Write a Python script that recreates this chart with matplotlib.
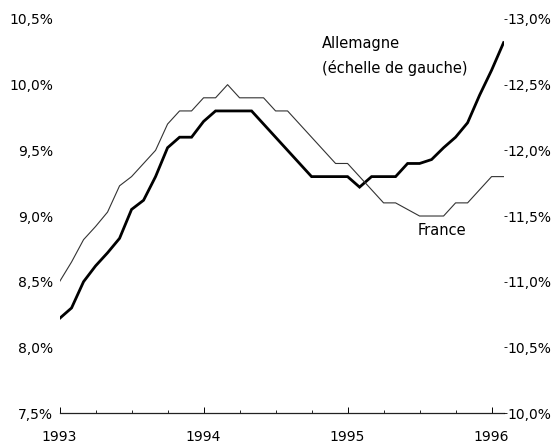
import numpy as np
import matplotlib.pyplot as plt

# monthly values, Jan 1993 - Feb 1996
years = [1993, 1994, 1995, 1996]
left_ticks = [7.5, 8.0, 8.5, 9.0, 9.5, 10.0, 10.5]
right_ticks = [10.0, 10.5, 11.0, 11.5, 12.0, 12.5, 13.0]

allemagne = [8.22, 8.30, 8.50, 8.62, 8.72, 8.83, 9.05, 9.12, 9.30, 9.52,
             9.60, 9.60, 9.72, 9.80, 9.80, 9.80, 9.80, 9.70, 9.60, 9.50,
             9.40, 9.30, 9.30, 9.30, 9.30, 9.22, 9.30, 9.30, 9.30, 9.40,
             9.40, 9.43, 9.52, 9.60, 9.71, 9.92, 10.11, 10.32]

france = [11.00, 11.15, 11.32, 11.42, 11.53, 11.73, 11.80, 11.90, 12.00, 12.20,
          12.30, 12.30, 12.40, 12.40, 12.50, 12.40, 12.40, 12.40, 12.30, 12.30,
          12.20, 12.10, 12.00, 11.90, 11.90, 11.80, 11.70, 11.60, 11.60, 11.55,
          11.50, 11.50, 11.50, 11.60, 11.60, 11.70, 11.80, 11.80]

plt.rcParams['font.family'] = ['DejaVu Sans']

fig = plt.figure(figsize=(5.54, 4.47), dpi=100)
ax = fig.add_axes([0.1075, 0.076, 0.8015, 0.8815])
ax2 = ax.twinx()

x = np.arange(len(allemagne))
ax.plot(x, allemagne, color='black', lw=2.0, solid_joinstyle='miter')
ax2.plot(x, france, color='#333333', lw=0.8)

ax.set_xlim(0, len(allemagne) - 1)
ax.set_ylim(7.5, 10.5)
ax2.set_ylim(10.0, 13.0)

ax.set_yticks(left_ticks)
ax.set_yticklabels([f'{v:.1f}%'.replace('.', ',') for v in left_ticks])
ax2.set_yticks(right_ticks)
ax2.set_yticklabels([f'{v:.1f}%'.replace('.', ',') for v in right_ticks])

ax.set_xticks([12 * i for i in range(len(years))])
ax.set_xticklabels([str(y) for y in years])
ax.set_xticks(np.arange(0, len(allemagne), 3), minor=True)

for a in (ax, ax2):
    for s in ('top', 'left', 'right'):
        a.spines[s].set_visible(False)
ax2.spines['bottom'].set_visible(False)
ax.spines['bottom'].set_linewidth(0.9)
ax.spines['bottom'].set_color('#222222')

ax.tick_params(axis='y', length=0, pad=4.5, labelsize=10)
ax2.tick_params(axis='y', length=2, pad=1, labelsize=10, width=0.6)
ax.tick_params(axis='x', which='major', direction='in', length=4, width=0.7,
               pad=12.5, labelsize=10)
ax.tick_params(axis='x', which='minor', direction='in', length=2, width=0.6)

ax.text(21.9, 10.31, 'Allemagne', fontsize=10.5, ha='left', va='center')
ax.text(21.9, 10.13, '(échelle de gauche)', fontsize=10.5, ha='left', va='center')
ax.text(29.8, 8.89, 'France', fontsize=10.5, ha='left', va='center')

fig.savefig('out.png', dpi=100)
